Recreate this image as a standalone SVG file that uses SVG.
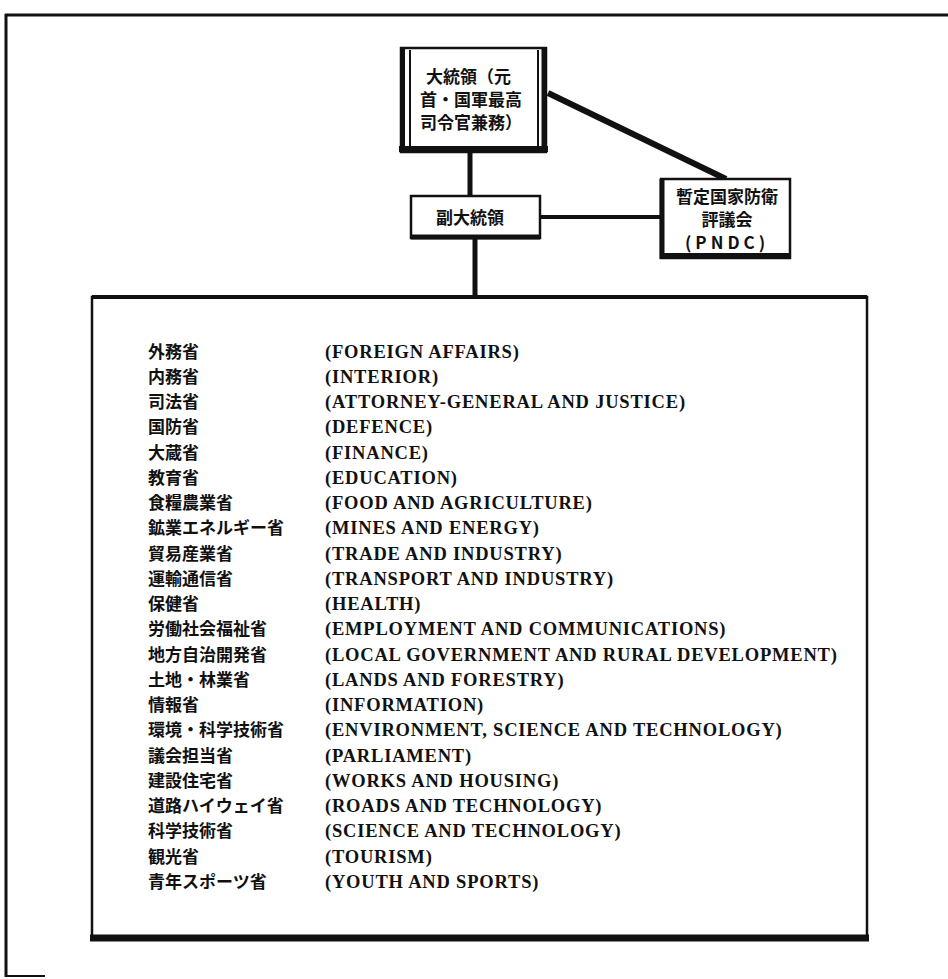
<svg xmlns="http://www.w3.org/2000/svg" width="948" height="979" viewBox="0 0 948 979">
<style>
.jp{font-family:"Noto Sans CJK JP","Noto Sans CJK SC",sans-serif;font-weight:bold;font-size:17px;fill:#111}
.en{font-family:"Liberation Serif","Times New Roman",serif;font-weight:bold;font-size:18.5px;letter-spacing:0.8px;fill:#111}
.bx{fill:#fff;stroke:#111;stroke-width:2.5}
.ln{stroke:#111;fill:none}
</style>
<rect width="948" height="979" fill="#fff"/>
<g id="frame" class="ln">
<line x1="5" y1="15" x2="948" y2="15" stroke-width="3"/>
<line x1="6" y1="14" x2="6" y2="977" stroke-width="3"/>
<line x1="5" y1="976" x2="45" y2="976" stroke-width="2"/>
</g>
<g id="connectors" class="ln">
<line x1="470" y1="152" x2="470" y2="196" stroke-width="5"/>
<line x1="475" y1="238" x2="475" y2="297" stroke-width="5"/>
<line x1="540" y1="217" x2="661" y2="217" stroke-width="4"/>
<line x1="548" y1="93" x2="726" y2="179" stroke-width="6"/>
</g>
<g id="president">
<rect class="bx" x="401" y="48" width="145" height="104"/>
<line class="ln" x1="410" y1="50" x2="410" y2="148" stroke-width="2"/>
<line class="ln" x1="538" y1="50" x2="538" y2="148" stroke-width="2"/>
<line class="ln" x1="399" y1="149" x2="548" y2="149" stroke-width="6"/>
<line class="ln" x1="403" y1="48" x2="403" y2="152" stroke-width="4"/>
<line class="ln" x1="544" y1="48" x2="544" y2="152" stroke-width="5"/>
<text class="jp" x="426" y="83" font-size="16.5">大統領（元</text>
<text class="jp" x="420" y="106" font-size="16.5">首・国軍最高</text>
<text class="jp" x="420" y="129" font-size="16.5">司令官兼務）</text>
</g>
<g id="vice">
<rect class="bx" x="411" y="196" width="129" height="42"/>
<line class="ln" x1="411" y1="237" x2="540" y2="237" stroke-width="5"/>
<text class="jp" x="470" y="224" font-size="18" text-anchor="middle">副大統領</text>
</g>
<g id="pndc">
<rect class="bx" x="661" y="179" width="129" height="79"/>
<line class="ln" x1="662" y1="179" x2="662" y2="259" stroke-width="5"/>
<line class="ln" x1="661" y1="256" x2="790" y2="256" stroke-width="6"/>
<text class="jp" x="727" y="203" font-size="18" text-anchor="middle">暫定国家防衛</text>
<text class="jp" x="727" y="226" font-size="18" text-anchor="middle">評議会</text>
<text class="jp" x="727" y="249" font-size="18" text-anchor="middle" letter-spacing="4">(PNDC)</text>
</g>
<g id="ministries">
<rect class="bx" x="92" y="297" width="775" height="642" stroke-width="3"/>
<line class="ln" x1="92" y1="297" x2="867" y2="297" stroke-width="4"/>
<line class="ln" x1="90" y1="938" x2="869" y2="938" stroke-width="7"/>
<g class="jp">
<text x="148" y="358">外務省</text>
<text x="148" y="383">内務省</text>
<text x="148" y="408">司法省</text>
<text x="148" y="433">国防省</text>
<text x="148" y="459">大蔵省</text>
<text x="148" y="484">教育省</text>
<text x="148" y="509">食糧農業省</text>
<text x="148" y="534">鉱業エネルギー省</text>
<text x="148" y="560">貿易産業省</text>
<text x="148" y="585">運輸通信省</text>
<text x="148" y="610">保健省</text>
<text x="148" y="635">労働社会福祉省</text>
<text x="148" y="661">地方自治開発省</text>
<text x="148" y="686">土地・林業省</text>
<text x="148" y="711">情報省</text>
<text x="148" y="736">環境・科学技術省</text>
<text x="148" y="762">議会担当省</text>
<text x="148" y="787">建設住宅省</text>
<text x="148" y="812">道路ハイウェイ省</text>
<text x="148" y="837">科学技術省</text>
<text x="148" y="863">観光省</text>
<text x="148" y="888">青年スポーツ省</text>
</g>
<g class="en">
<text x="325" y="358">(FOREIGN AFFAIRS)</text>
<text x="325" y="383">(INTERIOR)</text>
<text x="325" y="408">(ATTORNEY-GENERAL AND JUSTICE)</text>
<text x="325" y="433">(DEFENCE)</text>
<text x="325" y="459">(FINANCE)</text>
<text x="325" y="484">(EDUCATION)</text>
<text x="325" y="509">(FOOD AND AGRICULTURE)</text>
<text x="325" y="534">(MINES AND ENERGY)</text>
<text x="325" y="560">(TRADE AND INDUSTRY)</text>
<text x="325" y="585">(TRANSPORT AND INDUSTRY)</text>
<text x="325" y="610">(HEALTH)</text>
<text x="325" y="635">(EMPLOYMENT AND COMMUNICATIONS)</text>
<text x="325" y="661">(LOCAL GOVERNMENT AND RURAL DEVELOPMENT)</text>
<text x="325" y="686">(LANDS AND FORESTRY)</text>
<text x="325" y="711">(INFORMATION)</text>
<text x="325" y="736">(ENVIRONMENT, SCIENCE AND TECHNOLOGY)</text>
<text x="325" y="762">(PARLIAMENT)</text>
<text x="325" y="787">(WORKS AND HOUSING)</text>
<text x="325" y="812">(ROADS AND TECHNOLOGY)</text>
<text x="325" y="837">(SCIENCE AND TECHNOLOGY)</text>
<text x="325" y="863">(TOURISM)</text>
<text x="325" y="888">(YOUTH AND SPORTS)</text>
</g>
</g>
</svg>
